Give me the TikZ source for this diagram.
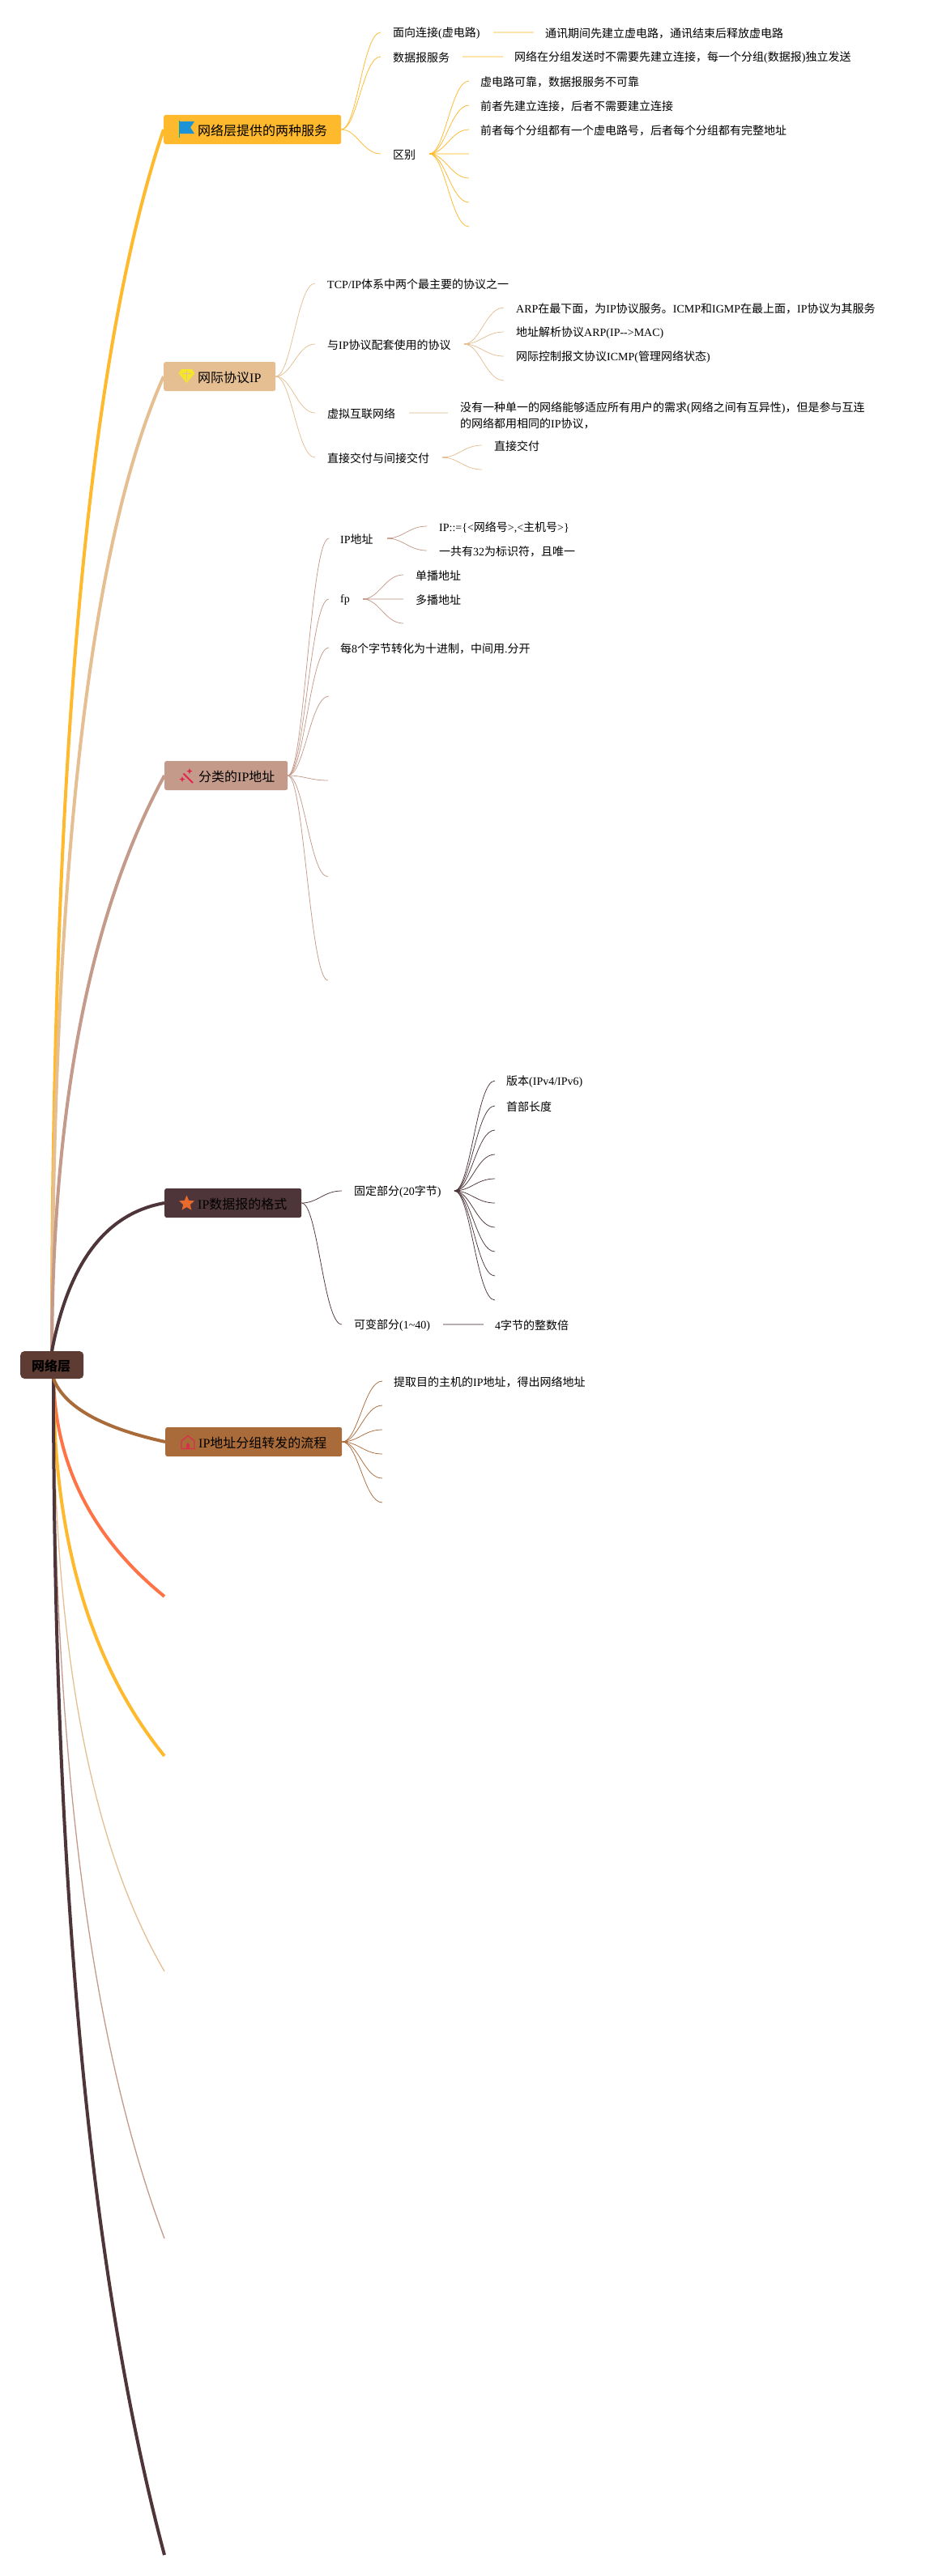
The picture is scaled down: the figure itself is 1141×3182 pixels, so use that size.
\documentclass[tikz,border=0pt]{standalone}
\usepackage{fontspec}
\usetikzlibrary{calc,backgrounds,shapes.geometric}
\setmainfont{Liberation Serif}
\newfontfamily\cjk{Noto Sans CJK SC}
\XeTeXinterchartokenstate=1
\newXeTeXintercharclass\cjkclass
\makeatletter
\count@="4E00
\loop\ifnum\count@<"A000 \XeTeXcharclass\count@=\cjkclass \advance\count@ by 1 \repeat
\makeatother
\XeTeXcharclass"FF0C=\cjkclass
\XeTeXcharclass"3002=\cjkclass
\XeTeXinterchartoks 0 \cjkclass={\cjk}
\XeTeXinterchartoks 4095 \cjkclass={\cjk}
\XeTeXinterchartoks \cjkclass 0={\rmfamily}
\definecolor{cY}{HTML}{FEB92D}
\definecolor{cT}{HTML}{E5BF92}
\definecolor{cP}{HTML}{C49A8B}
\definecolor{cD}{HTML}{4E3539}
\definecolor{cB}{HTML}{AA6B3A}
\definecolor{cO}{HTML}{FF7346}
\definecolor{cR}{HTML}{5E3B33}
\tikzset{
  txt/.style={inner sep=0pt,font=\fontsize{14}{20}\selectfont,text=black,align=left},
  btxt/.style={inner sep=0pt,font=\fontsize{16}{20}\selectfont,text=black,anchor=west},
  box/.style={rounded corners=2.5pt,inner sep=0pt,minimum height=36pt,anchor=west},
  mainline/.style={line width=4pt},
  thinmain/.style={line width=1.3pt},
  sub/.style={line width=0.75pt},
  straightline/.style={line width=2pt,opacity=0.4},
}
\newcommand\kid[5]{\coordinate (#1-in) at (#2,#3);\node[txt,anchor=west] (#1) at (#4-1,#3+1.5) {#5};}
\newcommand\lk[3]{\draw[sub,#1] let \p1=(#2),\p2=(#3) in (\p1) .. controls ({\x1+0.4*(\x2-\x1)},\y1) and ({\x1+0.55*(\x2-\x1)},\y2) .. (\p2);}
\newcommand\st[5]{\coordinate (#2-a) at (#3,#5);\coordinate (#2-b) at (#4,#5);\draw[straightline,#1] (#2-a) -- (#2-b);}
\newcommand\hub[4]{\coordinate (#2) at (#3,#4);\coordinate (#2-e) at (#3+7,#4);\draw[line width=2pt,opacity=0.7,#1] (#2) -- (#2-e);}
\newcommand\mq[4]{\coordinate (qc) at (#3);\draw[#1] (#2) .. controls ($(#2)!0.667!(qc)$) and ($(#4)!0.667!(qc)$) .. (#4);}
\begin{document}
\begin{tikzpicture}[x=1pt,y=-1pt]
\useasboundingbox (0,0) rectangle (1141,3182);
% root
\node[box,fill=cR,rounded corners=5pt,minimum width=78pt,minimum height=34pt] (root) at (25,1686) {};
\node[btxt,font=\fontsize{16}{20}\selectfont\bfseries] (roott) at (39,1687.5) {网络层};
\coordinate (rt) at (64,1669);
\coordinate (rb) at (66,1703);
% boxes
\node[box,fill=cY,minimum width=219pt] (b1) at (202,160) {};
\node[btxt] (b1t) at (244,161.5) {网络层提供的两种服务};
\node[box,fill=cT,minimum width=138pt] (b2) at (202,465) {};
\node[btxt] (b2t) at (244,466.5) {网际协议IP};
\node[box,fill=cP,minimum width=152pt] (b3) at (203,958) {};
\node[btxt] (b3t) at (245,959.5) {分类的IP地址};
\node[box,fill=cD,minimum width=169pt] (b4) at (203,1486) {};
\node[btxt] (b4t) at (244,1487.5) {IP数据报的格式};
\node[box,fill=cB,minimum width=218pt] (b5) at (204,1781) {};
\node[btxt] (b5t) at (245,1782.5) {IP地址分组转发的流程};
\coordinate (e6) at (203,1972);
\coordinate (e7) at (203,2169);
\coordinate (e8) at (203,2435);
\coordinate (e9) at (203,2765);
\coordinate (e10) at (203,3156);
% main branches
\begin{scope}[on background layer]
\fill[white] (0,0) rectangle (1141,3182);
\mq{mainline,cY}{rt}{64,568}{b1.west}
\mq{mainline,cT}{rt}{66,770}{b2.west}
\mq{mainline,cP}{rt}{66,1210}{b3.west}
\mq{mainline,cD}{rt}{95,1505}{b4.west}
\mq{mainline,cO}{rb}{70,1864}{e6}
\mq{mainline,cY}{rb}{66,2000}{e7}
\mq{thinmain,cT}{rb}{66,2200}{e8}
\mq{thinmain,cP}{rb}{66,2400}{e9}
\mq{mainline,cD}{rb}{66,2640}{e10}
\mq{mainline,cB}{rb}{86,1755}{b5.west}
\end{scope}
% branch 1
\kid{a1}{470}{40}{486}{面向连接(虚电路)}
\st{cY}{a1l}{609}{659}{40}
\node[txt,anchor=west] (a1c) at (673,41.5) {通讯期间先建立虚电路，通讯结束后释放虚电路};
\kid{a2}{470}{70}{486}{数据报服务}
\st{cY}{a2l}{571}{621}{70}
\node[txt,anchor=west] (a2c) at (635,71.5) {网络在分组发送时不需要先建立连接，每一个分组(数据报)独立发送};
\kid{a3}{470}{190}{486}{区别}
\lk{cY}{b1.east}{a1-in}\lk{cY}{b1.east}{a2-in}\lk{cY}{b1.east}{a3-in}
\hub{cY}{a3h}{530}{190}
\kid{a31}{579}{100}{594}{虚电路可靠，数据报服务不可靠}
\kid{a32}{579}{130}{594}{前者先建立连接，后者不需要建立连接}
\kid{a33}{579}{160}{594}{前者每个分组都有一个虚电路号，后者每个分组都有完整地址}
\coordinate (a34-in) at (579,190);
\coordinate (a35-in) at (579,220);
\coordinate (a36-in) at (579,250);
\coordinate (a37-in) at (579,280);
\lk{cY}{a3h}{a31-in}\lk{cY}{a3h}{a32-in}\lk{cY}{a3h}{a33-in}
\draw[straightline,cY] (a3h) -- (a34-in);
\lk{cY}{a3h}{a35-in}\lk{cY}{a3h}{a36-in}\lk{cY}{a3h}{a37-in}
% branch 2
\kid{t1}{389}{350}{405}{TCP/IP体系中两个最主要的协议之一}
\kid{t2}{389}{425}{405}{与IP协议配套使用的协议}
\kid{t3}{389}{510}{405}{虚拟互联网络}
\kid{t4}{389}{565}{405}{直接交付与间接交付}
\lk{cT}{b2.east}{t1-in}\lk{cT}{b2.east}{t2-in}\lk{cT}{b2.east}{t3-in}\lk{cT}{b2.east}{t4-in}
\hub{cT}{t2h}{573}{425}
\kid{t21}{622}{380}{638}{ARP在最下面，为IP协议服务。ICMP和IGMP在最上面，IP协议为其服务}
\kid{t22}{622}{410}{638}{地址解析协议ARP(IP-{}->MAC)}
\kid{t23}{622}{440}{638}{网际控制报文协议ICMP(管理网络状态)}
\coordinate (t24-in) at (622,470);
\lk{cT}{t2h}{t21-in}\lk{cT}{t2h}{t22-in}\lk{cT}{t2h}{t23-in}\lk{cT}{t2h}{t24-in}
\st{cT}{t3l}{505}{553}{510}
\node[txt,anchor=west] (t3c) at (568,513) {没有一种单一的网络能够适应所有用户的需求(网络之间有互异性)，但是参与互连\\的网络都用相同的IP协议，};
\hub{cT}{t4h}{546}{565}
\kid{t41}{595}{550}{611}{直接交付}
\coordinate (t42-in) at (595,580);
\lk{cT}{t4h}{t41-in}\lk{cT}{t4h}{t42-in}
% branch 3
\kid{c1}{406}{665}{421}{IP地址}
\kid{c2}{406}{740}{421}{fp}
\kid{c3}{406}{800}{421}{每8个字节转化为十进制，中间用.分开}
\coordinate (c4-in) at (406,860);
\coordinate (c5-in) at (405,964);
\coordinate (c6-in) at (405,1083);
\coordinate (c7-in) at (405,1211);
\lk{cP}{b3.east}{c1-in}\lk{cP}{b3.east}{c2-in}\lk{cP}{b3.east}{c3-in}\lk{cP}{b3.east}{c4-in}
\lk{cP}{b3.east}{c5-in}\lk{cP}{b3.east}{c6-in}\lk{cP}{b3.east}{c7-in}
\hub{cP}{c1h}{478}{665}
\kid{c11}{527}{650}{543}{IP::=\{<网络号>,<主机号>\}}
\kid{c12}{527}{680}{543}{一共有32为标识符，且唯一}
\lk{cP}{c1h}{c11-in}\lk{cP}{c1h}{c12-in}
\hub{cP}{c2h}{448}{740}
\kid{c21}{498}{710}{514}{单播地址}
\kid{c22}{498}{740}{514}{多播地址}
\coordinate (c23-in) at (498,770);
\lk{cP}{c2h}{c21-in}\draw[straightline,cP] (c2h) -- (c22-in);\lk{cP}{c2h}{c23-in}
% branch 4
\kid{d1}{422}{1471}{438}{固定部分(20字节)}
\kid{d2}{422}{1636}{438}{可变部分(1\textasciitilde 40)}
\lk{cD}{b4.east}{d1-in}\lk{cD}{b4.east}{d2-in}
\st{cD}{d2l}{547}{597}{1636}
\node[txt,anchor=west] (d2c) at (611,1637.5) {4字节的整数倍};
\hub{cD}{d1h}{561}{1471}
\kid{d11}{611}{1335}{626}{版本(IPv4/IPv6)}
\kid{d12}{611}{1366}{626}{首部长度}
\coordinate (d13-in) at (611,1396);
\coordinate (d14-in) at (611,1426);
\coordinate (d15-in) at (611,1456);
\coordinate (d16-in) at (611,1486);
\coordinate (d17-in) at (611,1516);
\coordinate (d18-in) at (611,1546);
\coordinate (d19-in) at (611,1576);
\coordinate (d110-in) at (611,1606);
\lk{cD}{d1h}{d11-in}\lk{cD}{d1h}{d12-in}\lk{cD}{d1h}{d13-in}\lk{cD}{d1h}{d14-in}\lk{cD}{d1h}{d15-in}
\lk{cD}{d1h}{d16-in}\lk{cD}{d1h}{d17-in}\lk{cD}{d1h}{d18-in}\lk{cD}{d1h}{d19-in}\lk{cD}{d1h}{d110-in}
% branch 5
\kid{f1}{472}{1706}{487}{提取目的主机的IP地址，得出网络地址}
\coordinate (f2-in) at (472,1736);
\coordinate (f3-in) at (472,1766);
\coordinate (f4-in) at (472,1796);
\coordinate (f5-in) at (472,1826);
\coordinate (f6-in) at (472,1856);
\lk{cB}{b5.east}{f1-in}\lk{cB}{b5.east}{f2-in}\lk{cB}{b5.east}{f3-in}\lk{cB}{b5.east}{f4-in}\lk{cB}{b5.east}{f5-in}\lk{cB}{b5.east}{f6-in}
% icons
\fill[color=teal!70!cyan] (221,149) rectangle (222.2,170);
\fill[color={rgb,255:red,27;green,147;blue,214}] (222,150) -- (240,150) -- (235,157.5) -- (240,165) -- (222,165) -- cycle;
\fill[color={rgb,255:red,245;green,229;blue,43}] (224,456) -- (237,456) -- (240.5,461) -- (230.5,473) -- (220.5,461) -- cycle;
\draw[color=cT,line width=0.5pt] (230.5,458) -- (230.5,470) (225,461) -- (236,461);
\draw[line width=2pt,color={rgb,255:red,224;green,36;blue,78}] (226.5,955.5) -- (238,967);
\fill[color={rgb,255:red,224;green,36;blue,78}] (234,949) -- (235,951.5) -- (237.5,952.5) -- (235,953.5) -- (234,956) -- (233,953.5) -- (230.5,952.5) -- (233,951.5) -- cycle;
\fill[color={rgb,255:red,224;green,36;blue,78}] (225,959) -- (226,961.5) -- (228.5,962.5) -- (226,963.5) -- (225,966) -- (224,963.5) -- (221.5,962.5) -- (224,961.5) -- cycle;
\node[star,star points=5,star point ratio=2.2,fill={rgb,255:red,232;green,106;blue,44},inner sep=0pt,minimum size=20pt] (i4) at (230.5,1486.5) {};
\draw[line width=1.3pt,color={rgb,255:red,217;green,48;blue,74}] (224,1789.5) -- (224,1780) -- (232,1773.5) -- (240,1780) -- (240,1789.5) -- cycle;
\fill[color={rgb,255:red,217;green,48;blue,74}] (230,1789.5) -- (230,1784) -- (232,1782) -- (234,1784) -- (234,1789.5) -- cycle;
\end{tikzpicture}
\end{document}
